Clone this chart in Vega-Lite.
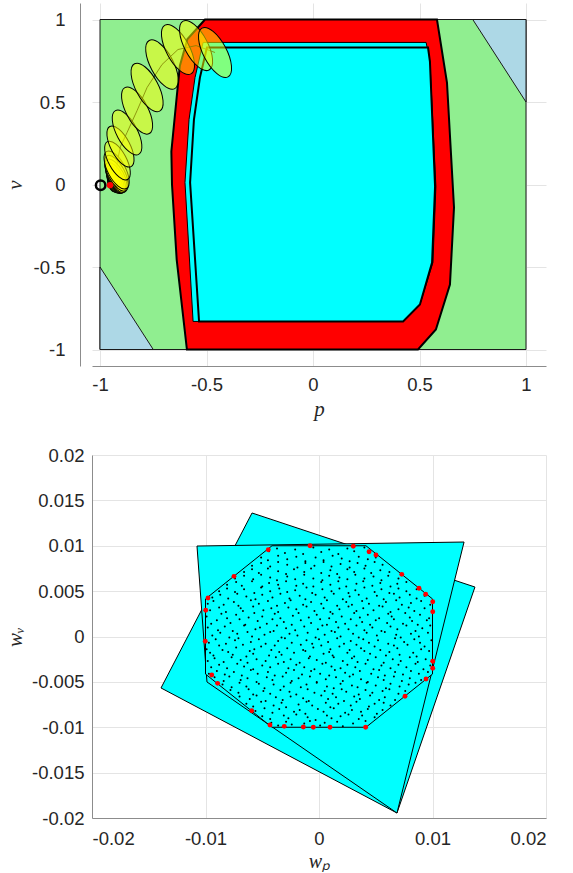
{
  "$schema": "https://vega.github.io/schema/vega-lite/v6.json",
  "padding": {"left": 4, "top": 3, "right": 5, "bottom": 0},
  "spacing": 26,
  "config": {
    "view": {"stroke": null},
    "axis": {
      "grid": true,
      "gridColor": "#e4e4e4",
      "gridWidth": 1,
      "domainColor": "#8c8c8c",
      "domainWidth": 1,
      "ticks": false,
      "labelFont": "Liberation Sans",
      "labelFontSize": 18.5,
      "labelColor": "#262626",
      "titleFont": "Liberation Serif",
      "titleFontStyle": "italic",
      "titleFontWeight": "normal",
      "titleFontSize": 21,
      "titleColor": "#262626"
    }
  },
  "datasets": {
    "regions": [
      {"poly": "green", "i": 0, "p": -1, "v": -1},
      {"poly": "green", "i": 1, "p": 1, "v": -1},
      {"poly": "green", "i": 2, "p": 1, "v": 1},
      {"poly": "green", "i": 3, "p": -1, "v": 1},
      {"poly": "blue1", "i": 0, "p": 0.75, "v": 1},
      {"poly": "blue1", "i": 1, "p": 1, "v": 1},
      {"poly": "blue1", "i": 2, "p": 1, "v": 0.5},
      {"poly": "blue2", "i": 0, "p": -1, "v": -0.5},
      {"poly": "blue2", "i": 1, "p": -1, "v": -1},
      {"poly": "blue2", "i": 2, "p": -0.75, "v": -1},
      {"poly": "red", "i": 0, "p": -0.507, "v": 1},
      {"poly": "red", "i": 1, "p": -0.59, "v": 0.88},
      {"poly": "red", "i": 2, "p": -0.625, "v": 0.72},
      {"poly": "red", "i": 3, "p": -0.64, "v": 0.53},
      {"poly": "red", "i": 4, "p": -0.665, "v": 0.2},
      {"poly": "red", "i": 5, "p": -0.662, "v": 0.0},
      {"poly": "red", "i": 6, "p": -0.64, "v": -0.455},
      {"poly": "red", "i": 7, "p": -0.592, "v": -1},
      {"poly": "red", "i": 8, "p": 0.493, "v": -1},
      {"poly": "red", "i": 9, "p": 0.577, "v": -0.879},
      {"poly": "red", "i": 10, "p": 0.643, "v": -0.606},
      {"poly": "red", "i": 11, "p": 0.662, "v": -0.139},
      {"poly": "red", "i": 12, "p": 0.629, "v": 0.618},
      {"poly": "red", "i": 13, "p": 0.582, "v": 1},
      {"poly": "cyan1", "i": 0, "p": -0.516, "v": 0.861},
      {"poly": "cyan1", "i": 1, "p": 0.531, "v": 0.861},
      {"poly": "cyan1", "i": 2, "p": 0.549, "v": 0.745},
      {"poly": "cyan1", "i": 3, "p": 0.577, "v": -0.012},
      {"poly": "cyan1", "i": 4, "p": 0.563, "v": -0.473},
      {"poly": "cyan1", "i": 5, "p": 0.502, "v": -0.727},
      {"poly": "cyan1", "i": 6, "p": 0.423, "v": -0.83},
      {"poly": "cyan1", "i": 7, "p": -0.563, "v": -0.83},
      {"poly": "cyan1", "i": 8, "p": -0.601, "v": 0.012},
      {"poly": "cyan1", "i": 9, "p": -0.582, "v": 0.394},
      {"poly": "cyan1", "i": 10, "p": -0.554, "v": 0.648},
      {"poly": "cyan2", "i": 0, "p": -0.498, "v": 0.83},
      {"poly": "cyan2", "i": 1, "p": 0.54, "v": 0.83},
      {"poly": "cyan2", "i": 2, "p": 0.549, "v": 0.745},
      {"poly": "cyan2", "i": 3, "p": 0.573, "v": -0.012},
      {"poly": "cyan2", "i": 4, "p": 0.559, "v": -0.473},
      {"poly": "cyan2", "i": 5, "p": 0.502, "v": -0.727},
      {"poly": "cyan2", "i": 6, "p": 0.423, "v": -0.83},
      {"poly": "cyan2", "i": 7, "p": -0.535, "v": -0.83},
      {"poly": "cyan2", "i": 8, "p": -0.577, "v": 0.012},
      {"poly": "cyan2", "i": 9, "p": -0.559, "v": 0.394},
      {"poly": "cyan2", "i": 10, "p": -0.531, "v": 0.648}
    ],
    "ell": [
      {"k": 0, "p": -0.953, "v": -0.004, "len": 0},
      {"k": 1, "p": -0.946, "v": -0.01, "len": 0.07},
      {"k": 2, "p": -0.942, "v": -0.004, "len": 0.095},
      {"k": 3, "p": -0.938, "v": 0.004, "len": 0.12},
      {"k": 4, "p": -0.934, "v": 0.012, "len": 0.145},
      {"k": 5, "p": -0.931, "v": 0.02, "len": 0.165},
      {"k": 6, "p": -0.929, "v": 0.03, "len": 0.185},
      {"k": 7, "p": -0.927, "v": 0.041, "len": 0.205},
      {"k": 8, "p": -0.925, "v": 0.053, "len": 0.225},
      {"k": 9, "p": -0.923, "v": 0.068, "len": 0.24},
      {"k": 10, "p": -0.922, "v": 0.088, "len": 0.255},
      {"k": 11, "p": -0.918, "v": 0.145, "len": 0.26},
      {"k": 12, "p": -0.904, "v": 0.23, "len": 0.275},
      {"k": 13, "p": -0.873, "v": 0.315, "len": 0.3},
      {"k": 14, "p": -0.826, "v": 0.448, "len": 0.315},
      {"k": 15, "p": -0.779, "v": 0.588, "len": 0.325},
      {"k": 16, "p": -0.709, "v": 0.727, "len": 0.33},
      {"k": 17, "p": -0.634, "v": 0.818, "len": 0.335},
      {"k": 18, "p": -0.549, "v": 0.842, "len": 0.335},
      {"k": 19, "p": -0.46, "v": 0.8, "len": 0.335}
    ],
    "polys2": [
      {"poly": "sq1", "i": 0, "wp": -0.0059, "wv": 0.01361},
      {"poly": "sq1", "i": 1, "wp": 0.01374, "wv": 0.00545},
      {"poly": "sq1", "i": 2, "wp": 0.00687, "wv": -0.01945},
      {"poly": "sq1", "i": 3, "wp": -0.01392, "wv": -0.00567},
      {"poly": "quad2", "i": 0, "wp": -0.01075, "wv": 0.00997},
      {"poly": "quad2", "i": 1, "wp": 0.01278, "wv": 0.01041},
      {"poly": "quad2", "i": 2, "wp": 0.00687, "wv": -0.01945},
      {"poly": "quad2", "i": 3, "wp": -0.00987, "wv": -0.00501},
      {"poly": "oct", "i": 0, "wp": -0.00414, "wv": 0.01},
      {"poly": "oct", "i": 1, "wp": 0.00414, "wv": 0.01},
      {"poly": "oct", "i": 2, "wp": 0.01, "wv": 0.00414},
      {"poly": "oct", "i": 3, "wp": 0.01, "wv": -0.00414},
      {"poly": "oct", "i": 4, "wp": 0.00414, "wv": -0.01},
      {"poly": "oct", "i": 5, "wp": -0.00414, "wv": -0.01},
      {"poly": "oct", "i": 6, "wp": -0.01, "wv": -0.00414},
      {"poly": "oct", "i": 7, "wp": -0.01, "wv": 0.00414}
    ],
    "reds": [
      {"wp": -0.00447, "wv": 0.00956},
      {"wp": -0.00749, "wv": 0.00663},
      {"wp": -0.00978, "wv": 0.00424},
      {"wp": -0.00998, "wv": 0.00289},
      {"wp": -0.01002, "wv": -0.00053},
      {"wp": -0.00079, "wv": 0.01},
      {"wp": 0.00302, "wv": 0.00994},
      {"wp": 0.00441, "wv": 0.00934},
      {"wp": 0.00502, "wv": 0.00898},
      {"wp": 0.00729, "wv": 0.00685},
      {"wp": 0.00881, "wv": 0.00531},
      {"wp": 0.0094, "wv": 0.00465},
      {"wp": 0.01002, "wv": 0.00383},
      {"wp": 0.01002, "wv": 0.00273},
      {"wp": 0.01002, "wv": -0.00273},
      {"wp": 0.01002, "wv": -0.0035},
      {"wp": 0.00943, "wv": -0.00468},
      {"wp": 0.00758, "wv": -0.00659},
      {"wp": -0.00945, "wv": -0.00424},
      {"wp": -0.00893, "wv": -0.00516},
      {"wp": -0.00593, "wv": -0.00818},
      {"wp": -0.00432, "wv": -0.00975},
      {"wp": -0.00306, "wv": -0.0099},
      {"wp": -0.00138, "wv": -0.00997},
      {"wp": -0.0005, "wv": -0.01},
      {"wp": 0.00097, "wv": -0.01},
      {"wp": 0.00411, "wv": -0.01}
    ]
  },
  "vconcat": [
    {
      "width": 454,
      "height": 363,
      "encoding": {
        "x": {"field": "p", "type": "quantitative", "scale": {"domain": [-1.0376, 1.0939], "nice": false, "zero": false},
              "axis": {"values": [-1, -0.5, 0, 0.5, 1], "title": "p", "labelPadding": 9, "titlePadding": 5, "labelExpr": "replace(format(datum.value, '~g'), '−', '-')"}},
        "y": {"field": "v", "type": "quantitative", "scale": {"domain": [-1.1, 1.1], "nice": false, "zero": false},
              "axis": {"values": [-1, -0.5, 0, 0.5, 1], "title": "v", "offset": 12, "labelPadding": 15, "minExtent": 47, "maxExtent": 47, "titlePadding": 8, "labelExpr": "replace(format(datum.value, '~g'), '−', '-')"}}
      },
      "layer": [
        {
          "data": {"name": "regions"},
          "transform": [{"filter": "datum.poly == 'green'"}],
          "mark": {"type": "line", "interpolate": "linear-closed", "fill": "#90ee90", "stroke": "#1a1a1a", "strokeWidth": 1},
          "encoding": {"order": {"field": "i", "type": "quantitative"}, "detail": {"field": "poly"}}
        },
        {
          "data": {"name": "regions"},
          "transform": [{"filter": "datum.poly == 'blue1' || datum.poly == 'blue2'"}],
          "mark": {"type": "line", "interpolate": "linear-closed", "fill": "#add8e6", "stroke": "#1a1a1a", "strokeWidth": 1},
          "encoding": {"order": {"field": "i", "type": "quantitative"}, "detail": {"field": "poly"}}
        },
        {
          "data": {"name": "regions"},
          "transform": [{"filter": "datum.poly == 'red'"}],
          "mark": {"type": "line", "interpolate": "linear-closed", "fill": "#ff0000", "stroke": "#000000", "strokeWidth": 2},
          "encoding": {"order": {"field": "i", "type": "quantitative"}, "detail": {"field": "poly"}}
        },
        {
          "data": {"name": "regions"},
          "transform": [{"filter": "datum.poly == 'cyan1'"}],
          "mark": {"type": "line", "interpolate": "linear-closed", "fill": "#00ffff", "stroke": "#000000", "strokeWidth": 1},
          "encoding": {"order": {"field": "i", "type": "quantitative"}, "detail": {"field": "poly"}}
        },
        {
          "data": {"name": "regions"},
          "transform": [{"filter": "datum.poly == 'cyan2'"}],
          "mark": {"type": "line", "interpolate": "linear-closed", "fill": "#00ffff", "stroke": "#000000", "strokeWidth": 2},
          "encoding": {"order": {"field": "i", "type": "quantitative"}, "detail": {"field": "poly"}}
        },
        {
          "data": {"name": "ell"},
          "mark": {"type": "line", "stroke": "#000000", "strokeWidth": 0.8},
          "encoding": {"order": {"field": "k", "type": "quantitative"}}
        },
        {
          "data": {"name": "ell"},
          "mark": {"type": "point", "shape": "M0,-1A0.42,1,0,1,1,0,1A0.42,1,0,1,1,0,-1Z", "angle": -28, "filled": true, "fill": "#ffff00", "fillOpacity": 0.5, "stroke": "#000000", "strokeWidth": 1, "strokeOpacity": 1, "opacity": 1},
          "encoding": {"size": {"field": "len", "type": "quantitative", "scale": {"type": "pow", "exponent": 2, "domain": [0, 1], "range": [0, 27225]}, "legend": null}}
        },
        {
          "data": {"values": [{"p": -0.997, "v": -0.005}]},
          "mark": {"type": "point", "shape": "circle", "filled": false, "stroke": "#000000", "strokeWidth": 2.5, "size": 90, "opacity": 1}
        },
        {
          "data": {"values": [{"p": -0.953, "v": -0.004}]},
          "mark": {"type": "point", "shape": "circle", "filled": true, "fill": "#ff0000", "size": 40, "opacity": 1}
        }
      ]
    },
    {
      "width": 454,
      "height": 363,
      "encoding": {
        "x": {"field": "wp", "type": "quantitative", "scale": {"domain": [-0.02, 0.02], "nice": false, "zero": false},
              "axis": {"values": [-0.02, -0.01, 0, 0.01, 0.02], "title": "wₚ", "titleFontSize": 20, "labelPadding": 11, "titlePadding": 4, "labelExpr": "replace(format(datum.value, '~g'), '−', '-')"}},
        "y": {"field": "wv", "type": "quantitative", "scale": {"domain": [-0.02, 0.02], "nice": false, "zero": false},
              "axis": {"values": [-0.02, -0.015, -0.01, -0.005, 0, 0.005, 0.01, 0.015, 0.02], "title": "wᵥ", "labelPadding": 8, "minExtent": 59, "maxExtent": 59, "titlePadding": 8, "labelExpr": "replace(format(datum.value, '~g'), '−', '-')"}}
      },
      "layer": [
        {
          "data": {"name": "polys2"},
          "transform": [{"filter": "datum.poly == 'sq1'"}],
          "mark": {"type": "line", "interpolate": "linear-closed", "fill": "#00ffff", "stroke": "#000000", "strokeWidth": 1},
          "encoding": {"order": {"field": "i", "type": "quantitative"}, "detail": {"field": "poly"}}
        },
        {
          "data": {"name": "polys2"},
          "transform": [{"filter": "datum.poly == 'quad2'"}],
          "mark": {"type": "line", "interpolate": "linear-closed", "fill": "#00ffff", "stroke": "#000000", "strokeWidth": 1},
          "encoding": {"order": {"field": "i", "type": "quantitative"}, "detail": {"field": "poly"}}
        },
        {
          "data": {"name": "polys2"},
          "transform": [{"filter": "datum.poly == 'oct'"}],
          "mark": {"type": "line", "interpolate": "linear-closed", "fill": "#00ffff", "stroke": "#000000", "strokeWidth": 1},
          "encoding": {"order": {"field": "i", "type": "quantitative"}, "detail": {"field": "poly"}}
        },
        {
          "data": {
            "values": "wp,wv\n-.0042,-.0095\n-.0036,-.0098\n-.0029,-.0094\n-.0024,-.0097\n-.0013,-.0096\n-.0008,-.0093\n.0001,-.0098\n.0005,-.0095\n.0016,-.0094\n.0021,-.0099\n.0030,-.0096\n.0041,-.0093\n-.0050,-.0088\n-.0043,-.0091\n-.0031,-.0087\n-.0027,-.0090\n-.0020,-.0086\n-.0010,-.0089\n-.0003,-.0092\n.0007,-.0087\n.0011,-.0090\n.0019,-.0088\n.0026,-.0086\n.0035,-.0091\n.0038,-.0087\n.0049,-.0089\n-.0056,-.0082\n-.0048,-.0079\n-.0041,-.0084\n-.0035,-.0080\n-.0022,-.0083\n-.0017,-.0081\n-.0012,-.0085\n-.0001,-.0080\n.0004,-.0083\n.0013,-.0079\n.0023,-.0084\n.0029,-.0081\n.0037,-.0083\n.0043,-.0080\n.0051,-.0085\n.0056,-.0081\n-.0064,-.0074\n-.0058,-.0077\n-.0051,-.0072\n-.0040,-.0076\n-.0033,-.0073\n-.0029,-.0078\n-.0018,-.0075\n-.0011,-.0072\n-.0006,-.0076\n.0006,-.0073\n.0010,-.0078\n.0017,-.0074\n.0028,-.0076\n.0033,-.0072\n.0044,-.0077\n.0049,-.0074\n.0057,-.0073\n.0063,-.0076\n-.0070,-.0066\n-.0061,-.0069\n-.0055,-.0065\n-.0047,-.0071\n-.0038,-.0067\n-.0032,-.0070\n-.0025,-.0066\n-.0014,-.0068\n-.0009,-.0071\n.0002,-.0065\n.0008,-.0069\n.0015,-.0067\n.0022,-.0071\n.0031,-.0066\n.0036,-.0069\n.0045,-.0065\n.0053,-.0070\n.0058,-.0067\n.0067,-.0070\n-.0078,-.0059\n-.0071,-.0062\n-.0062,-.0058\n-.0058,-.0064\n-.0049,-.0060\n-.0043,-.0063\n-.0034,-.0059\n-.0026,-.0061\n-.0020,-.0064\n-.0010,-.0058\n-.0004,-.0062\n.0005,-.0060\n.0012,-.0063\n.0020,-.0058\n.0024,-.0061\n.0035,-.0064\n.0041,-.0059\n.0047,-.0062\n.0056,-.0060\n.0062,-.0058\n.0070,-.0063\n.0076,-.0060\n-.0085,-.0053\n-.0077,-.0056\n-.0070,-.0051\n-.0064,-.0055\n-.0053,-.0052\n-.0048,-.0057\n-.0040,-.0053\n-.0031,-.0055\n-.0025,-.0051\n-.0016,-.0056\n-.0011,-.0053\n-.0002,-.0051\n.0007,-.0055\n.0013,-.0057\n.0019,-.0052\n.0029,-.0054\n.0034,-.0056\n.0042,-.0051\n.0050,-.0054\n.0059,-.0057\n.0063,-.0052\n.0071,-.0055\n.0079,-.0053\n.0085,-.0051\n-.0092,-.0045\n-.0084,-.0049\n-.0079,-.0044\n-.0069,-.0048\n-.0063,-.0046\n-.0055,-.0050\n-.0046,-.0045\n-.0041,-.0048\n-.0032,-.0044\n-.0024,-.0049\n-.0018,-.0046\n-.0008,-.0044\n-.0002,-.0050\n.0006,-.0047\n.0015,-.0045\n.0021,-.0049\n.0027,-.0044\n.0037,-.0047\n.0043,-.0050\n.0052,-.0045\n.0057,-.0048\n.0066,-.0044\n.0073,-.0049\n.0080,-.0046\n.0090,-.0048\n-.0097,-.0041\n-.0090,-.0038\n-.0083,-.0042\n-.0075,-.0039\n-.0068,-.0043\n-.0060,-.0037\n-.0054,-.0041\n-.0045,-.0039\n-.0039,-.0043\n-.0029,-.0040\n-.0022,-.0037\n-.0015,-.0042\n-.0007,-.0038\n.0001,-.0041\n.0009,-.0043\n.0014,-.0037\n.0023,-.0040\n.0030,-.0042\n.0036,-.0038\n.0046,-.0041\n.0053,-.0037\n.0058,-.0043\n.0067,-.0039\n.0074,-.0042\n.0081,-.0038\n.0088,-.0041\n.0096,-.0039\n-.0095,-.0034\n-.0088,-.0031\n-.0081,-.0035\n-.0072,-.0030\n-.0066,-.0033\n-.0058,-.0036\n-.0050,-.0032\n-.0043,-.0034\n-.0036,-.0030\n-.0027,-.0035\n-.0020,-.0031\n-.0013,-.0034\n-.0004,-.0036\n.0003,-.0030\n.0011,-.0033\n.0019,-.0035\n.0025,-.0031\n.0032,-.0034\n.0041,-.0030\n.0048,-.0036\n.0055,-.0032\n.0063,-.0035\n.0070,-.0031\n.0077,-.0034\n.0085,-.0030\n.0092,-.0036\n.0098,-.0032\n-.0098,-.0027\n-.0092,-.0024\n-.0084,-.0028\n-.0077,-.0023\n-.0069,-.0026\n-.0063,-.0029\n-.0055,-.0025\n-.0047,-.0027\n-.0038,-.0023\n-.0031,-.0028\n-.0025,-.0025\n-.0017,-.0029\n-.0009,-.0024\n-.0002,-.0026\n.0006,-.0029\n.0013,-.0023\n.0021,-.0027\n.0029,-.0024\n.0034,-.0028\n.0043,-.0026\n.0050,-.0023\n.0057,-.0029\n.0065,-.0025\n.0072,-.0027\n.0080,-.0023\n.0087,-.0028\n.0094,-.0025\n-.0096,-.0018\n-.0093,-.0021\n-.0080,-.0017\n-.0076,-.0020\n-.0064,-.0022\n-.0061,-.0016\n-.0058,-.0019\n-.0044,-.0021\n-.0035,-.0017\n-.0033,-.0020\n-.0022,-.0018\n-.0012,-.0016\n-.0008,-.0022\n.0004,-.0019\n.0009,-.0017\n.0012,-.0021\n.0025,-.0018\n.0031,-.0022\n.0040,-.0016\n.0045,-.0019\n.0059,-.0021\n.0062,-.0017\n.0071,-.0020\n.0083,-.0018\n.0086,-.0022\n.0097,-.0016\n-.0099,-.0014\n-.0088,-.0010\n-.0085,-.0015\n-.0073,-.0012\n-.0067,-.0009\n-.0057,-.0014\n-.0051,-.0011\n-.0042,-.0015\n-.0039,-.0010\n-.0028,-.0013\n-.0016,-.0009\n-.0014,-.0015\n-.0005,-.0012\n.0002,-.0010\n.0010,-.0014\n.0018,-.0011\n.0027,-.0015\n.0033,-.0009\n.0037,-.0013\n.0049,-.0011\n.0054,-.0015\n.0066,-.0010\n.0069,-.0013\n.0078,-.0009\n.0090,-.0014\n.0093,-.0011\n-.0097,-.0007\n-.0091,-.0003\n-.0082,-.0008\n-.0074,-.0004\n-.0071,-.0002\n-.0060,-.0006\n-.0053,-.0003\n-.0047,-.0008\n-.0036,-.0005\n-.0030,-.0002\n-.0024,-.0007\n-.0011,-.0004\n-.0006,-.0008\n.0000,-.0003\n.0008,-.0006\n.0016,-.0002\n.0022,-.0008\n.0028,-.0005\n.0039,-.0003\n.0044,-.0007\n.0052,-.0004\n.0061,-.0008\n.0067,-.0002\n.0075,-.0006\n.0084,-.0003\n.0089,-.0007\n.0099,-.0004\n-.0094,.0001\n-.0087,.0004\n-.0079,-.0001\n-.0072,.0003\n-.0063,.0005\n-.0059,.0000\n-.0048,.0002\n-.0043,.0005\n-.0033,-.0001\n-.0026,.0003\n-.0019,.0001\n-.0010,.0004\n-.0003,-.0001\n.0005,.0002\n.0014,.0005\n.0019,.0000\n.0030,.0003\n.0035,-.0001\n.0042,.0004\n.0051,.0001\n.0058,.0005\n.0068,.0002\n.0072,-.0001\n.0081,.0003\n.0088,.0000\n.0096,.0004\n-.0098,.0010\n-.0089,.0007\n-.0083,.0011\n-.0076,.0006\n-.0066,.0012\n-.0056,.0008\n-.0052,.0010\n-.0040,.0006\n-.0037,.0012\n-.0029,.0009\n-.0021,.0007\n-.0013,.0011\n-.0001,.0008\n.0003,.0012\n.0011,.0006\n.0017,.0010\n.0026,.0008\n.0033,.0012\n.0040,.0007\n.0047,.0010\n.0055,.0006\n.0063,.0011\n.0069,.0008\n.0077,.0012\n.0085,.0006\n.0091,.0009\n.0098,.0012\n-.0095,.0014\n-.0090,.0018\n-.0078,.0015\n-.0070,.0019\n-.0065,.0013\n-.0054,.0017\n-.0046,.0014\n-.0041,.0019\n-.0031,.0016\n-.0024,.0013\n-.0016,.0018\n-.0007,.0015\n.0001,.0019\n.0007,.0013\n.0015,.0016\n.0023,.0014\n.0028,.0019\n.0038,.0016\n.0045,.0013\n.0050,.0018\n.0060,.0015\n.0066,.0019\n.0074,.0014\n.0082,.0017\n.0087,.0013\n.0095,.0018\n-.0099,.0022\n-.0086,.0025\n-.0081,.0020\n-.0073,.0024\n-.0062,.0021\n-.0057,.0026\n-.0050,.0022\n-.0039,.0025\n-.0034,.0020\n-.0023,.0023\n-.0018,.0026\n-.0009,.0021\n-.0002,.0024\n.0009,.0020\n.0012,.0025\n.0020,.0022\n.0031,.0026\n.0036,.0021\n.0043,.0024\n.0053,.0020\n.0061,.0025\n.0064,.0022\n.0076,.0026\n.0080,.0021\n.0089,.0024\n.0097,.0020\n-.0096,.0029\n-.0088,.0032\n-.0082,.0027\n-.0069,.0031\n-.0067,.0028\n-.0058,.0033\n-.0049,.0029\n-.0042,.0031\n-.0036,.0027\n-.0027,.0032\n-.0020,.0030\n-.0011,.0033\n-.0004,.0028\n.0004,.0031\n.0010,.0027\n.0018,.0030\n.0026,.0033\n.0033,.0028\n.0039,.0031\n.0048,.0029\n.0056,.0033\n.0063,.0027\n.0070,.0030\n.0079,.0032\n.0084,.0028\n.0093,.0031\n-.0098,.0036\n-.0093,.0039\n-.0084,.0035\n-.0075,.0038\n-.0071,.0034\n-.0060,.0040\n-.0053,.0036\n-.0045,.0039\n-.0037,.0034\n-.0030,.0037\n-.0025,.0040\n-.0014,.0035\n-.0007,.0038\n.0002,.0036\n.0007,.0040\n.0016,.0034\n.0024,.0038\n.0029,.0035\n.0038,.0039\n.0044,.0036\n.0053,.0034\n.0059,.0038\n.0068,.0040\n.0073,.0035\n.0081,.0037\n.0090,.0039\n.0098,.0035\n-.0094,.0043\n-.0087,.0046\n-.0080,.0042\n-.0072,.0047\n-.0064,.0044\n-.0056,.0041\n-.0050,.0046\n-.0041,.0043\n-.0034,.0047\n-.0026,.0042\n-.0017,.0045\n-.0012,.0041\n-.0003,.0046\n.0005,.0043\n.0013,.0047\n.0021,.0041\n.0027,.0044\n.0035,.0046\n.0042,.0042\n.0051,.0045\n.0057,.0041\n.0066,.0047\n.0071,.0043\n.0080,.0046\n.0086,.0042\n.0093,.0045\n-.0088,.0050\n-.0081,.0053\n-.0074,.0049\n-.0066,.0052\n-.0057,.0048\n-.0051,.0054\n-.0043,.0050\n-.0035,.0053\n-.0028,.0049\n-.0021,.0051\n-.0011,.0054\n-.0006,.0048\n.0003,.0052\n.0011,.0050\n.0018,.0053\n.0026,.0048\n.0032,.0051\n.0040,.0054\n.0049,.0049\n.0055,.0052\n.0062,.0048\n.0070,.0053\n.0077,.0050\n.0086,.0052\n-.0081,.0057\n-.0073,.0060\n-.0068,.0056\n-.0059,.0061\n-.0050,.0055\n-.0044,.0059\n-.0036,.0057\n-.0029,.0061\n-.0020,.0056\n-.0014,.0058\n-.0005,.0055\n.0002,.0060\n.0010,.0057\n.0017,.0061\n.0024,.0055\n.0033,.0058\n.0039,.0061\n.0047,.0056\n.0054,.0059\n.0063,.0055\n.0069,.0058\n.0077,.0060\n-.0074,.0064\n-.0066,.0067\n-.0058,.0063\n-.0051,.0068\n-.0043,.0065\n-.0037,.0062\n-.0028,.0066\n-.0021,.0063\n-.0013,.0068\n-.0005,.0064\n.0003,.0062\n.0009,.0067\n.0018,.0065\n.0025,.0063\n.0032,.0068\n.0040,.0064\n.0048,.0066\n.0055,.0062\n.0061,.0067\n.0070,.0064\n-.0066,.0071\n-.0059,.0074\n-.0053,.0070\n-.0045,.0075\n-.0036,.0072\n-.0029,.0069\n-.0022,.0074\n-.0013,.0071\n-.0007,.0075\n.0002,.0070\n.0010,.0073\n.0016,.0069\n.0025,.0074\n.0031,.0071\n.0040,.0075\n.0046,.0070\n.0054,.0073\n.0062,.0071\n-.0059,.0078\n-.0051,.0081\n-.0043,.0077\n-.0036,.0082\n-.0028,.0079\n-.0019,.0076\n-.0012,.0081\n-.0004,.0078\n.0004,.0082\n.0011,.0077\n.0019,.0080\n.0027,.0076\n.0034,.0081\n.0041,.0078\n.0049,.0082\n.0056,.0079\n-.0051,.0087\n-.0045,.0084\n-.0036,.0089\n-.0028,.0085\n-.0020,.0088\n-.0012,.0083\n-.0003,.0087\n.0004,.0084\n.0012,.0089\n.0020,.0086\n.0027,.0083\n.0035,.0088\n.0043,.0085\n.0050,.0087\n-.0044,.0094\n-.0037,.0097\n-.0030,.0092\n-.0021,.0096\n-.0014,.0091\n-.0005,.0098\n.0002,.0093\n.0009,.0096\n.0017,.0091\n.0025,.0097\n.0031,.0094\n.0040,.0098",
            "format": {"type": "csv", "parse": {"wp": "number", "wv": "number"}}
          },
          "mark": {"type": "point", "shape": "circle", "filled": true, "fill": "#000000", "size": 4, "opacity": 1}
        },
        {
          "data": {"name": "reds"},
          "mark": {"type": "point", "shape": "circle", "filled": true, "fill": "#ff0000", "size": 24, "opacity": 1}
        }
      ]
    }
  ]
}
